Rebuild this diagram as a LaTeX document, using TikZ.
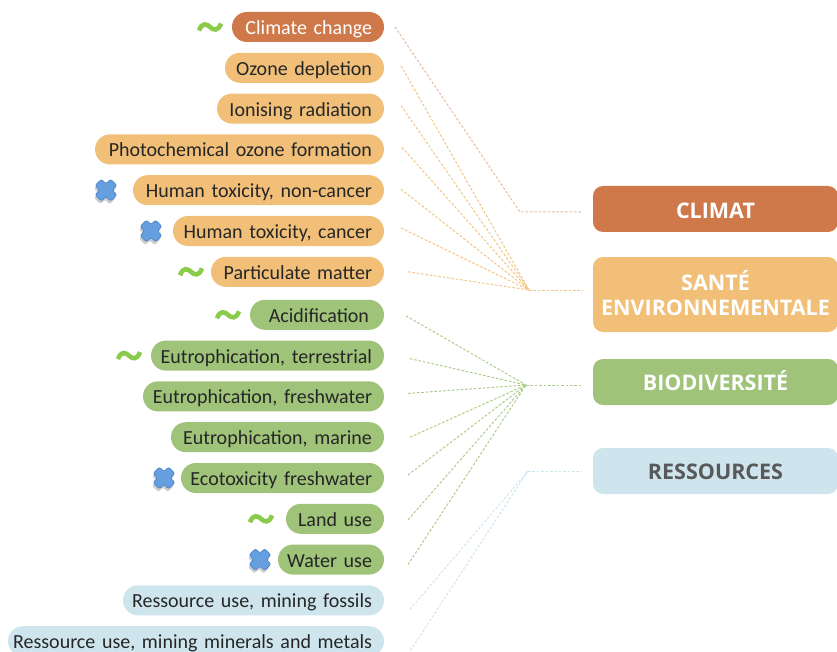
\documentclass[tikz,border=0pt]{standalone}
\usepackage{fontspec}
\usepackage{xcolor}
\usetikzlibrary{positioning,shadows}
\setmainfont[WordSpace=0.55]{Carlito}
\newfontfamily\boxfont{Open Sans}
\newcommand{\rlabel}[1]{\makebox[\linewidth][r]{#1}}
\definecolor{climatecol}{HTML}{CF7849}
\definecolor{santecol}{HTML}{F1BF78}
\definecolor{biocol}{HTML}{9FC378}
\definecolor{rescol}{HTML}{CFE5EE}
\definecolor{tildecol}{HTML}{8ACB4C}
\definecolor{crosscol}{HTML}{659FE0}
\definecolor{crossline}{HTML}{4A80C8}
\begin{document}
\begin{tikzpicture}
		[x=1pt,y=-1pt,
		pill/.style={rectangle,rounded corners=14.9pt,text width=#1,align=right,inner xsep=12pt,inner ysep=0pt,outer sep=0pt,minimum height=30pt,text height=15pt,text depth=0pt,text=black!85,font=\fontsize{20pt}{22pt}\selectfont},
		climatepill/.style={pill=#1,fill=climatecol,text=white},
		santepill/.style={pill=#1,fill=santecol},
		biopill/.style={pill=#1,fill=biocol},
		respill/.style={pill=#1,fill=rescol},
		rowbelow/.style={below=10.8pt of #1.south east,anchor=north east},
		target/.style={rectangle,rounded corners=10pt,minimum width=245pt,text width=245pt,align=center,inner sep=0pt,outer sep=0pt,font=\boxfont\bfseries\fontsize{21.5pt}{25pt}\selectfont,text=white},
		oneline/.style={minimum height=46pt,text height=#1,text depth=0pt},
		climateline/.style={dashed,dash pattern=on 2.6pt off 1.8pt,line width=1pt,draw=climatecol!50},
		santeline/.style={dashed,dash pattern=on 2.6pt off 1.8pt,line width=1pt,draw=santecol!90},
		bioline/.style={dashed,dash pattern=on 2.6pt off 1.8pt,line width=1pt,draw=biocol!85},
		resline/.style={dashed,dash pattern=on 2.6pt off 1.8pt,line width=1pt,draw=rescol},
		tilde/.pic={\draw [tildecol,line width=4.6pt] (-11,3.5) .. controls (-8,-5) and (-3,-3) .. (0,0) .. controls (3,3) and (8,5) .. (11,-3.5);},
		cross/.pic={\draw [fill=crosscol,draw=crossline,line width=.6pt,rotate=45,rounded corners=2pt,drop shadow={shadow xshift=-1pt,shadow yshift=-3pt,opacity=.2,fill=black}] (-4.5,-11) -- (4.5,-11) -- (4.5,-4.5) -- (11,-4.5) -- (11,4.5) -- (4.5,4.5) -- (4.5,11) -- (-4.5,11) -- (-4.5,4.5) -- (-11,4.5) -- (-11,-4.5) -- (-4.5,-4.5) -- cycle;}]
		\useasboundingbox (0,0) rectangle (837,652);

		\node [climatepill=128pt,anchor=east] (climate) at (384,27) {\rlabel{Climate change}};
		\node [santepill=135pt,rowbelow=climate] (ozone) {\rlabel{Ozone depletion}};
		\node [santepill=143pt,rowbelow=ozone] (ionising) {\rlabel{Ionising radiation}};
		\node [santepill=265pt,rowbelow=ionising] (photo) {\rlabel{Photochemical ozone formation}};
		\node [santepill=227pt,rowbelow=photo] (noncancer) {\rlabel{Human toxicity, non-cancer}};
		\node [santepill=187pt,rowbelow=noncancer] (cancer) {\rlabel{Human toxicity, cancer}};
		\node [santepill=149pt,rowbelow=cancer] (matter) {\rlabel{Particulate matter}};

		\node [biopill=110pt,below=13pt of matter.south east,anchor=north east] (acid) {\rlabel{Acidification\hspace*{3pt}}};
		\node [biopill=209pt,rowbelow=acid] (terrestrial) {\rlabel{Eutrophication, terrestrial}};
		\node [biopill=217pt,rowbelow=terrestrial] (freshwater) {\rlabel{Eutrophication, freshwater}};
		\node [biopill=189pt,rowbelow=freshwater] (marine) {\rlabel{Eutrophication, marine}};
		\node [biopill=179pt,rowbelow=marine] (ecotox) {\rlabel{Ecotoxicity freshwater}};
		\node [biopill=74pt,rowbelow=ecotox] (land) {\rlabel{Land use}};
		\node [biopill=82pt,rowbelow=land] (water) {\rlabel{Water use}};
		\node [respill=237pt,rowbelow=water] (fossils) {\rlabel{Ressource use, mining fossils}};
		\node [respill=352pt,rowbelow=fossils] (minerals) {\rlabel{Ressource use, mining minerals and metals}};

		\node [target,fill=climatecol,oneline=19pt] (climat) at (715.5,209) {CLIMAT};
		\node [target,fill=santecol,minimum height=75pt] (sante) at (715.5,294.5) {SANTÉ\\ENVIRONNEMENTALE\rule[-4pt]{0pt}{4pt}};
		\node [target,fill=biocol,oneline=17pt] (biodiv) at (715.5,382) {BIODIVERSITÉ};
		\node [target,fill=rescol,oneline=17.5pt,text=black!65] (ressources) at (715.5,471) {RESSOURCES};

		\pic at ([xshift=-22pt]climate.west) {tilde};
		\pic at ([xshift=-20pt]matter.west) {tilde};
		\pic at ([xshift=-22pt]acid.west) {tilde};
		\pic at ([xshift=-22pt]terrestrial.west) {tilde};
		\pic at ([xshift=-25pt]land.west) {tilde};
		\pic at ([xshift=-27pt]noncancer.west) {cross};
		\pic at ([xshift=-22pt]cancer.west) {cross};
		\pic at ([xshift=-17pt]ecotox.west) {cross};
		\pic at ([xshift=-18pt]water.west) {cross};

		\coordinate (jclimat) at (520,212);
		\coordinate (jsante) at (529,290);
		\coordinate (jbiodiv) at (526,385);
		\coordinate (jressources) at (528,471);
		\coordinate (eclimat) at (582,212);
		\coordinate (esante) at (582,290);
		\coordinate (ebiodiv) at (582,385);
		\coordinate (eressources) at (582,471);

		\draw [climateline] ([xshift=11pt]climate.east) -- (jclimat) -- (eclimat);
		\foreach \n/\dx/\dy in {ozone/17/-2,ionising/17/-3,photo/18/-2,noncancer/17/-1,cancer/17/-3,matter/24/0}
			\draw [santeline] ([shift={(\dx,\dy)}]\n.east) -- (jsante);
		\draw [santeline] (jsante) -- (esante);
		\foreach \n/\dx/\dy in {acid/22/1,terrestrial/26/3,freshwater/24/-3,marine/26/0,ecotox/24/-3,land/24/1,water/24/5}
			\draw [bioline] ([shift={(\dx,\dy)}]\n.east) -- (jbiodiv);
		\draw [bioline] (jbiodiv) -- (ebiodiv);
		\foreach \n/\dx/\dy in {fossils/26/9,minerals/24/13}
			\draw [resline] ([shift={(\dx,\dy)}]\n.east) -- (jressources);
		\draw [resline] (jressources) -- (eressources);
	\end{tikzpicture}
\end{document}
